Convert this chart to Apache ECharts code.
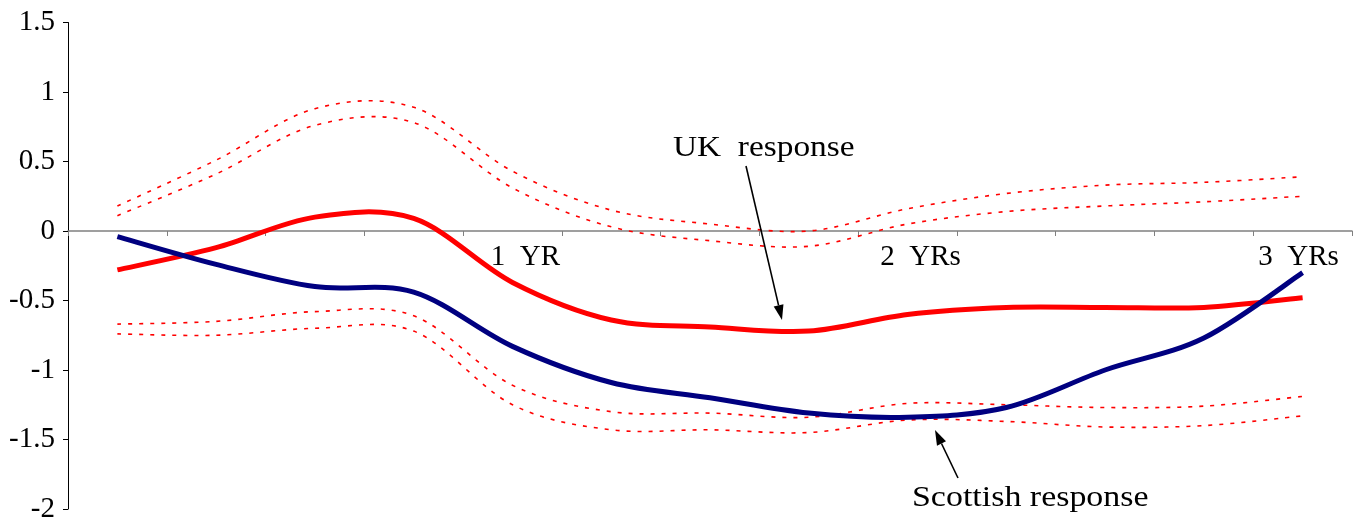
<!DOCTYPE html>
<html>
<head>
<meta charset="utf-8">
<title>UK and Scottish responses</title>
<script src="https://cdn.jsdelivr.net/npm/echarts@6/dist/echarts.min.js"></script>
<style>
  html, body { margin: 0; padding: 0; background: #ffffff; }
  #chart { width: 1362px; height: 521px; }
</style>
</head>
<body>
<div id="chart"></div>
<script>
// Quarterly horizon, 0 to 12 quarters; only the yearly marks are labelled
const quarters = ['Q0', 'Q1', 'Q2', 'Q3', 'Q4', 'Q5', 'Q6', 'Q7', 'Q8', 'Q9', 'Q10', 'Q11', 'Q12'];
const yearLabels = { Q4: '1\u00a0\u00a0YR', Q8: '2\u00a0\u00a0YRs', Q12: '3\u00a0\u00a0YRs' };

// Impulse responses
const ukResponse       = [-0.28, -0.12, 0.10, 0.09, -0.37, -0.64, -0.69, -0.72, -0.60, -0.55, -0.55, -0.55, -0.48];
const scottishResponse = [-0.04, -0.24, -0.40, -0.44, -0.83, -1.09, -1.20, -1.31, -1.34, -1.27, -1.00, -0.77, -0.30];

// Confidence bands around the UK response
const ukUpperOuter = [0.18, 0.51, 0.88, 0.89, 0.43, 0.15, 0.05, 0.00, 0.16, 0.27, 0.33, 0.35, 0.39];
const ukUpperInner = [0.11, 0.41, 0.76, 0.78, 0.31, 0.03, -0.07, -0.11, 0.05, 0.14, 0.18, 0.21, 0.25];
const ukLowerInner = [-0.67, -0.65, -0.58, -0.61, -1.11, -1.30, -1.31, -1.34, -1.24, -1.25, -1.27, -1.26, -1.19];
const ukLowerOuter = [-0.74, -0.75, -0.70, -0.72, -1.25, -1.43, -1.43, -1.45, -1.36, -1.37, -1.41, -1.40, -1.33];

const Y_MIN = -2, Y_MAX = 1.5, Y_STEP = 0.5;

const FONT = "'Liberation Serif', 'Times New Roman', serif";
const RED = '#ff0000';
const NAVY = '#000080';

const chart = echarts.init(document.getElementById('chart'), null, { renderer: 'canvas' });

// Catmull-Rom spline through pixel points, written as cubic Bezier segments
function splinePath(pts) {
  let d = 'M' + pts[0][0] + ',' + pts[0][1];
  for (let i = 0; i < pts.length - 1; i++) {
    const p0 = pts[Math.max(i - 1, 0)];
    const p1 = pts[i];
    const p2 = pts[i + 1];
    const p3 = pts[Math.min(i + 2, pts.length - 1)];
    const c1x = p1[0] + (p2[0] - p0[0]) / 6, c1y = p1[1] + (p2[1] - p0[1]) / 6;
    const c2x = p2[0] - (p3[0] - p1[0]) / 6, c2y = p2[1] - (p3[1] - p1[1]) / 6;
    d += 'C' + c1x + ',' + c1y + ',' + c2x + ',' + c2y + ',' + p2[0] + ',' + p2[1];
  }
  return d;
}

// A smoothed line drawn through the axes' own coordinate mapping
function curveSeries(name, values, style, z) {
  return {
    name: name,
    type: 'custom',
    coordinateSystem: 'cartesian2d',
    xAxisIndex: 0,
    yAxisIndex: 0,
    data: values.map(function (v, i) { return [i, v]; }),
    encode: { x: 0, y: 1 },
    silent: true,
    clip: false,
    z: z,
    renderItem: function (params, api) {
      if (params.dataIndex !== 0) return null;
      const pts = values.map(function (v, i) { return api.coord([i, v]); });
      return {
        type: 'path',
        shape: { pathData: splinePath(pts) },
        style: Object.assign({ fill: null }, style)
      };
    }
  };
}

const bandStyle = { stroke: RED, lineWidth: 1.6, lineDash: [4, 7] };

// Arrow built from a shaft and a filled head pointing at `tip`
function arrow(tail, tip) {
  const dx = tip[0] - tail[0], dy = tip[1] - tail[1];
  const len = Math.sqrt(dx * dx + dy * dy);
  const ux = dx / len, uy = dy / len;
  const headLen = 15, headHalf = 5;
  const bx = tip[0] - ux * headLen, by = tip[1] - uy * headLen;
  return [
    {
      type: 'line',
      shape: { x1: tail[0], y1: tail[1], x2: bx, y2: by },
      style: { stroke: '#000', lineWidth: 1.6 },
      z: 10
    },
    {
      type: 'polygon',
      shape: { points: [tip, [bx - uy * headHalf, by + ux * headHalf], [bx + uy * headHalf, by - ux * headHalf]] },
      style: { fill: '#000' },
      z: 10
    }
  ];
}

const option = {
  animation: false,
  backgroundColor: '#ffffff',
  grid: { left: 68, right: 10, top: 22.5, bottom: 12, outerBoundsMode: 'none', containLabel: false },
  xAxis: [
    {
      // the zero line with its tick marks
      type: 'category',
      data: quarters,
      boundaryGap: true,
      axisLine: { onZero: true, lineStyle: { color: '#808080', width: 1.5 } },
      axisTick: { show: true, interval: 0, length: 5, lineStyle: { color: '#808080', width: 1 } },
      axisLabel: { show: false },
      splitLine: { show: false }
    },
    {
      // year labels set just under the zero line
      type: 'category',
      data: quarters,
      position: 'bottom',
      boundaryGap: true,
      offset: 0,
      axisLine: { show: false, onZero: false },
      axisTick: { show: false },
      axisLabel: {
        show: true,
        interval: 0,
        margin: 12,
        color: '#000',
        fontFamily: FONT,
        fontSize: 29,
        formatter: function (value) {
          if (!yearLabels[value]) return '';
          return (value === 'Q12' ? '{late|' : '{early|') + yearLabels[value] + '}';
        },
        rich: {
          early: { fontFamily: FONT, fontSize: 29, color: '#000', padding: [0, 0, 0, 26] },
          late: { fontFamily: FONT, fontSize: 29, color: '#000', padding: [0, 8, 0, 0] }
        }
      },
      splitLine: { show: false }
    }
  ],
  yAxis: {
    type: 'value',
    min: Y_MIN,
    max: Y_MAX,
    interval: Y_STEP,
    axisLine: { show: true, onZero: false, lineStyle: { color: '#000', width: 1 } },
    axisTick: { show: true, length: 5, lineStyle: { color: '#000', width: 1 } },
    axisLabel: {
      margin: 13,
      color: '#000',
      fontFamily: FONT,
      fontSize: 29
    },
    splitLine: { show: false }
  },
  series: [
    curveSeries('UK upper outer', ukUpperOuter, bandStyle, 2),
    curveSeries('UK upper inner', ukUpperInner, bandStyle, 2),
    curveSeries('UK lower inner', ukLowerInner, bandStyle, 2),
    curveSeries('UK lower outer', ukLowerOuter, bandStyle, 2),
    curveSeries('Scottish response', scottishResponse, { stroke: NAVY, lineWidth: 5, lineJoin: 'round' }, 4),
    curveSeries('UK response', ukResponse, { stroke: RED, lineWidth: 5, lineJoin: 'round' }, 3)
  ],
  graphic: [
    {
      type: 'text',
      x: 673, y: 134,
      scaleX: 1.15,
      style: { text: 'UK\u00a0\u00a0response', font: '29px ' + FONT, fill: '#000', align: 'left', verticalAlign: 'top' },
      z: 10
    },
    {
      type: 'text',
      x: 912, y: 484,
      scaleX: 1.17,
      style: { text: 'Scottish response', font: '29px ' + FONT, fill: '#000', align: 'left', verticalAlign: 'top' },
      z: 10
    }
  ].concat(arrow([746, 166], [782, 320]), arrow([958, 478], [935, 430]))
};

chart.setOption(option);

// Lift the label axis from the plot's bottom edge up to the zero line
const zeroY = chart.convertToPixel({ yAxisIndex: 0 }, 0);
const bottomY = chart.convertToPixel({ yAxisIndex: 0 }, Y_MIN);
chart.setOption({ xAxis: [{}, { offset: zeroY - bottomY }] });
</script>
</body>
</html>
